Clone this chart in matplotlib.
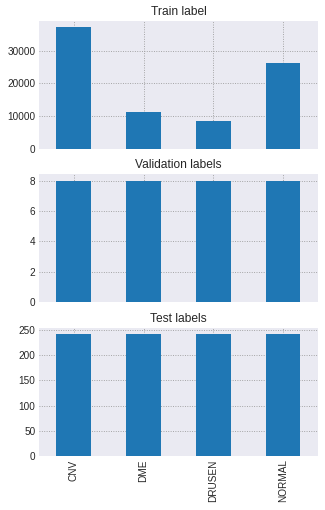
import numpy as np
import matplotlib
matplotlib.use('Agg')
import matplotlib.pyplot as plt

plt.style.use('seaborn-v0_8-darkgrid')
plt.rcParams['font.family'] = ['Liberation Sans', 'DejaVu Sans']
plt.rcParams['grid.linestyle'] = ':'
plt.rcParams['grid.color'] = '#9a9a9a'
plt.rcParams['grid.linewidth'] = 0.9

CLASSES = ['CNV', 'DME', 'DRUSEN', 'NORMAL']
TRAIN_COUNTS = [37205, 11348, 8616, 26315]
VAL_COUNTS = [8, 8, 8, 8]
TEST_COUNTS = [242, 242, 242, 242]

TITLES = ['Train label', 'Validation labels', 'Test labels']

fig, axes = plt.subplots(3, 1, sharex=True, figsize=(325/72, 510/72), dpi=72)
x = np.arange(len(CLASSES))
for ax, counts, title in zip(axes, [TRAIN_COUNTS, VAL_COUNTS, TEST_COUNTS], TITLES):
    ax.bar(x, counts, 0.5, color='#1f77b4')
    ax.set_xlim(-0.5, len(CLASSES) - 0.5)
    ax.set_ylim(0, max(counts) * 1.05)
    ax.set_title(title, fontsize=12, color='#262626')
    ax.tick_params(axis='both', labelsize=10, colors='#262626')
    ax.set_axisbelow(True)

axes[-1].set_xticks(x)
axes[-1].set_xticklabels(CLASSES, rotation=90)

fig.subplots_adjust(left=0.12, right=0.978, top=0.959, bottom=0.106, hspace=0.2)
fig.savefig('out.png', dpi=72)
